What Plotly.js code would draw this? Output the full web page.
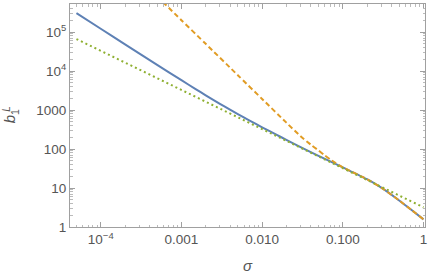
<!DOCTYPE html>
<html>
<head>
<meta charset="utf-8">
<script src="https://cdn.plot.ly/plotly-3.0.1.min.js"></script>
<style>html,body{margin:0;padding:0;background:#fff;}#chart{width:437px;height:279px;}</style>
</head>
<body>
<div id="chart"></div>
<script>
// sigma grid for the blue and green curves
const sigma = [5e-5, 1e-4, 2e-4, 5e-4, 1e-3, 1.5e-3, 2e-3, 3e-3, 4e-3, 5e-3, 7e-3, 0.01, 0.015, 0.02, 0.03, 0.05, 0.1, 0.2, 0.3, 0.5, 0.7, 1];
const blueVals = [304000, 121000, 48300, 14300, 5820, 3436, 2378, 1439, 1019, 785, 536, 360, 233, 172, 112, 67, 33.8, 16.8, 10.2, 4.8, 2.8, 1.57];
const greenVals = [66000, 33000, 16500, 6600, 3300, 2200, 1650, 1100, 825, 660, 471, 330, 220, 166, 110, 66, 33.5, 16.6, 10.8, 6.4, 4.6, 3.2];
// orange curve (clipped at the top of the frame)
const sigmaOrange = [5e-4, 1e-3, 2e-3, 5e-3, 0.01, 0.02, 0.03, 0.04, 0.05, 0.06, 0.07, 0.08, 0.1, 0.2, 0.3, 0.5, 0.7, 1];
const orangeVals = [817000, 201000, 49700, 7800, 1920, 474, 212, 130, 92, 68, 54, 45, 33.8, 16.8, 10.2, 4.8, 2.8, 1.57];

const xTickVals = [1e-4, 1e-3, 1e-2, 1e-1, 1];
const xTickText = ['10<sup>−4</sup>', '0.001', '0.010', '0.100', '1'];
const yTickVals = [1, 10, 100, 1000, 1e4, 1e5];
const yTickText = ['1', '10', '100', '1000', '10<sup>4</sup>', '10<sup>5</sup>'];

function minorTicks(lo, hi) {
  const v = [];
  for (let e = lo; e <= hi; e++) for (let m = 2; m <= 9; m++) v.push(m * Math.pow(10, e));
  return v;
}

const FONT = 'Liberation Sans, Arial, sans-serif';
const frame = '#a0a0a0';

const traces = [
  {x: sigma, y: blueVals, mode: 'lines', line: {color: '#5E81B5', width: 2, shape: 'spline', smoothing: 0.6}},
  {x: sigmaOrange, y: orangeVals, mode: 'lines', line: {color: '#E19C24', width: 2, dash: '5px,3px', shape: 'spline', smoothing: 0.6}},
  {x: sigma, y: greenVals, mode: 'lines', line: {color: '#8FB032', width: 2, dash: '2px,3px'}}
];

const axisCommon = {
  type: 'log', showgrid: false, zeroline: false, showline: true, linecolor: frame, linewidth: 1,
  mirror: 'allticks', ticks: 'inside', ticklen: 5, tickcolor: frame, tickwidth: 1,
  tickfont: {family: FONT, size: 13.5, color: '#555'}
};

const layout = {
  width: 437, height: 279,
  margin: {l: 70, r: 11.5, t: 4, b: 52},
  paper_bgcolor: '#fff', plot_bgcolor: '#fff',
  showlegend: false,
  xaxis: Object.assign({}, axisCommon, {
    range: [-4.381, 0.019], tickmode: 'array', tickvals: xTickVals, ticktext: xTickText,
    minor: {tickmode: 'array', tickvals: minorTicks(-5, -1), ticks: 'inside', ticklen: 2.5, tickcolor: '#bbb', showgrid: false},
    title: {text: '<i>σ</i>', font: {family: FONT, size: 15, color: '#555'}, standoff: 14}
  }),
  yaxis: Object.assign({}, axisCommon, {
    range: [0, 5.718], tickmode: 'array', tickvals: yTickVals, ticktext: yTickText,
    minor: {tickmode: 'array', tickvals: minorTicks(0, 5), ticks: 'inside', ticklen: 2.5, tickcolor: '#bbb', showgrid: false}
  }),
  annotations: [
    {xref: 'paper', yref: 'paper', x: -0.165, y: 0.498, xanchor: 'center', yanchor: 'middle', showarrow: false,
     textangle: -90, text: '<i>b</i><sub>1</sub>', font: {family: FONT, size: 15, color: '#555'}},
    {xref: 'paper', yref: 'paper', x: -0.179, y: 0.532, xanchor: 'center', yanchor: 'middle', showarrow: false,
     textangle: -90, text: '<i>L</i>', font: {family: FONT, size: 10, color: '#555'}}
  ]
};

Plotly.newPlot('chart', traces, layout, {displayModeBar: false, staticPlot: true});
</script>
</body>
</html>
